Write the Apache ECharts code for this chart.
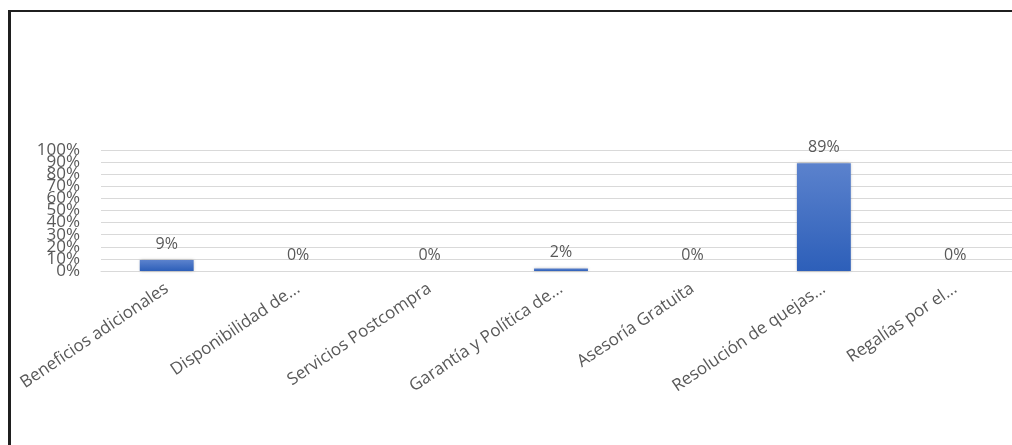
<!DOCTYPE html>
<html>
<head>
<meta charset="utf-8">
<script src="https://cdn.jsdelivr.net/npm/echarts@6/dist/echarts.min.js"></script>
<style>
  html, body { margin: 0; padding: 0; background: #fff; overflow: hidden; width: 1012px; height: 445px; }
  #frame { position: absolute; left: 8px; top: 10px; width: 1100px; height: 500px;
           border-left: 3px solid #1f1f1f; border-top: 2px solid #1f1f1f; }
  #chart { position: absolute; left: 0; top: 0; width: 1030px; height: 445px; }
</style>
</head>
<body>
<div id="frame"></div>
<div id="chart"></div>
<script>
const categories = [
  "Beneficios adicionales",
  "Disponibilidad de...",
  "Servicios Postcompra",
  "Garantía y Política de...",
  "Asesoría Gratuita",
  "Resolución de quejas...",
  "Regalías por el..."
];
const values = [9, 0, 0, 2, 0, 89, 0];
const yTicks = { min: 0, max: 100, interval: 10 };

const chart = echarts.init(document.getElementById('chart'), null, { renderer: 'canvas' });
const font = '"Open Sans", sans-serif';
const labelStyle = { color: '#595959', fontSize: 17, fontFamily: font, margin: 21 };
function yAxisDef(even) {
  return {
    type: 'value', position: 'left',
    min: yTicks.min, max: yTicks.max, interval: yTicks.interval,
    axisLine: { show: false },
    axisTick: { show: false },
    splitLine: { show: even, lineStyle: { color: '#d9d9d9', width: 1 } },
    axisLabel: Object.assign({}, labelStyle, {
      showMinLabel: even, showMaxLabel: even,
      formatter: function (v) {
        const isEven = Math.round(v / yTicks.interval) % 2 === 0;
        return isEven === even ? v + '%' : '';
      }
    })
  };
}
chart.setOption({
  backgroundColor: 'transparent',
  animation: false,
  grid: { left: 101, right: 9, top: 150, bottom: 174, containLabel: false },
  xAxis: {
    type: 'category',
    data: categories,
    axisLine: { show: true, lineStyle: { color: '#d9d9d9', width: 1 } },
    axisTick: { show: false },
    axisLabel: {
      interval: 0, rotate: 34, margin: 16,
      color: '#595959', fontSize: 17, fontFamily: font
    }
  },
  yAxis: [yAxisDef(true), yAxisDef(false)],
  series: [{
    type: 'bar',
    yAxisIndex: 0,
    data: values,
    barWidth: '41%',
    itemStyle: {
      color: new echarts.graphic.LinearGradient(0, 0, 0, 1, [
        { offset: 0, color: '#5b82cd' },
        { offset: 1, color: '#2d5fb9' }
      ]),
      shadowBlur: 3, shadowColor: 'rgba(0,0,0,0.25)'
    },
    label: {
      show: true, position: 'top', distance: 8,
      formatter: '{c}%', color: '#595959', fontSize: 16, fontFamily: font
    }
  }]
});
</script>
</body>
</html>
